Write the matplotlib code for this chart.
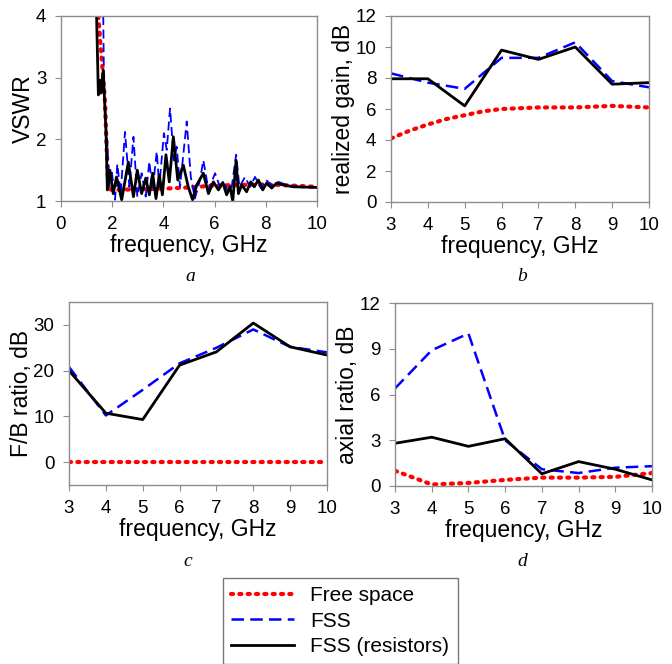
import numpy as np
import matplotlib
matplotlib.use("Agg")
import matplotlib.pyplot as plt

plt.rcParams['font.family'] = ['Liberation Sans', 'DejaVu Sans']

# (a) VSWR
vswr_free_f = [1.46, 1.55, 1.65, 1.72, 1.78, 1.85, 2.0, 3.0, 4.0, 5.0, 6.0, 7.0, 8.0, 9.0, 10.0]
vswr_free = [4.0, 3.5, 3.0, 2.6, 1.9, 1.2, 1.18, 1.19, 1.2, 1.22, 1.25, 1.26, 1.27, 1.25, 1.23]

vswr_fss_f = [1.65, 1.68, 1.76, 1.81, 1.89, 1.98, 2.11, 2.2, 2.33, 2.5, 2.67, 2.83, 2.98,
              3.15, 3.31, 3.45, 3.58, 3.74, 3.84, 4.02, 4.13, 4.26, 4.41, 4.52, 4.65,
              4.91, 5.07, 5.23, 5.43, 5.56, 5.76, 6.02, 6.21, 6.37, 6.54, 6.67, 6.84,
              6.97, 7.19, 7.38, 7.58, 7.8, 8.01, 8.23, 8.49, 8.82, 9.34, 10.0]
vswr_fss = [4.0, 2.9, 2.2, 1.94, 1.23, 1.5, 1.02, 1.6, 1.12, 2.12, 1.23, 2.04, 1.07,
            1.45, 1.07, 1.64, 1.18, 1.8, 1.23, 2.1, 1.83, 2.5, 1.66, 1.88, 1.23,
            2.29, 1.39, 1.04, 1.34, 1.66, 1.18, 1.45, 1.23, 1.29, 1.15, 1.23, 1.75,
            1.23, 1.39, 1.23, 1.39, 1.21, 1.34, 1.26, 1.31, 1.26, 1.23, 1.22]

vswr_res_f = [1.39, 1.46, 1.52, 1.56, 1.65, 1.76, 1.81, 1.91, 2.04, 2.17, 2.37, 2.63, 2.83,
              2.98, 3.15, 3.31, 3.45, 3.58, 3.71, 3.84, 3.96, 4.1, 4.23, 4.39, 4.56,
              4.78, 4.97, 5.14, 5.3, 5.56, 5.76, 5.95, 6.15, 6.32, 6.47, 6.6, 6.71,
              6.84, 6.93, 7.06, 7.25, 7.41, 7.55, 7.71, 7.88, 8.03, 8.23, 8.42, 8.68,
              9.08, 10.0]
vswr_res = [4.0, 2.72, 2.96, 2.75, 3.12, 2.1, 1.18, 1.5, 1.12, 1.39, 1.02, 1.63, 1.07,
            1.5, 1.12, 1.37, 1.1, 1.45, 1.04, 1.42, 1.1, 1.75, 1.31, 2.04, 1.34,
            1.58, 1.23, 1.02, 1.26, 1.45, 1.12, 1.31, 1.18, 1.3, 1.1, 1.23, 1.0,
            1.66, 1.12, 1.26, 1.15, 1.31, 1.23, 1.34, 1.18, 1.29, 1.21, 1.29, 1.26,
            1.23, 1.22]

# (b) realized gain
freq = [3, 4, 5, 6, 7, 8, 9, 10]
gain_free_f = [3, 3.5, 4, 4.5, 5, 5.5, 6, 7, 8, 9, 10]
gain_free = [4.1, 4.6, 5.0, 5.35, 5.6, 5.85, 6.0, 6.1, 6.1, 6.2, 6.1]
gain_fss = [8.3, 7.7, 7.3, 9.3, 9.3, 10.3, 7.8, 7.4]
gain_res = [7.95, 7.95, 6.2, 9.8, 9.2, 10.0, 7.6, 7.7]

# (c) F/B ratio
fb_free = [0, 0, 0, 0, 0, 0, 0, 0]
fb_fss = [20.8, 10.2, 15.8, 21.6, 25.0, 29.0, 25.2, 24.0]
fb_res = [20.0, 10.7, 9.3, 21.2, 24.1, 30.4, 25.2, 23.4]

# (d) axial ratio
ar_free = [1.0, 0.1, 0.2, 0.4, 0.55, 0.55, 0.6, 0.85]
ar_fss = [6.4, 8.9, 10.0, 3.0, 1.1, 0.85, 1.2, 1.3]
ar_res = [2.8, 3.2, 2.6, 3.1, 0.8, 1.6, 1.1, 0.4]

W, H = 672, 664
fig = plt.figure(figsize=(W / 100, H / 100), dpi=100)


def px_axes(left, top, right, bottom):
    return fig.add_axes([left / W, 1 - bottom / H, (right - left) / W, (bottom - top) / H])


red = dict(color='#ff0000', linestyle=(0, (0.5, 1.5)), linewidth=3.0, dash_capstyle='round')
blue = dict(color='#0000ff', linestyle=(0, (5, 2.5)), linewidth=1.8)
black = dict(color='black', linestyle='-', linewidth=2.0)


def style(ax, ylabel):
    for s in ax.spines.values():
        s.set_color('#8c8c8c')
        s.set_linewidth(1.0)
    ax.tick_params(labelsize=13.5, length=4, color='#8c8c8c', pad=6.5)
    ax.set_xlabel('frequency, GHz', fontsize=16.5, labelpad=1)
    ax.set_ylabel(ylabel, fontsize=16.5, labelpad=0.5)


# a
ax = px_axes(61, 16, 317, 201)
ax.plot(vswr_free_f, vswr_free, **red)
ax.plot(vswr_fss_f, vswr_fss, **{**blue, 'linewidth': 1.3})
ax.plot(vswr_res_f, vswr_res, **black)
ax.set_xlim(0, 10)
ax.set_ylim(1, 4)
ax.set_xticks([0, 2, 4, 6, 8, 10])
ax.set_yticks([1, 2, 3, 4])
style(ax, 'VSWR')

# b
ax = px_axes(391, 16, 649, 202)
ax.plot(gain_free_f, gain_free, **red)
ax.plot(freq, gain_fss, **blue)
ax.plot(freq, gain_res, **black)
ax.set_xlim(3, 10)
ax.set_ylim(0, 12)
ax.set_xticks(freq)
ax.set_yticks([0, 2, 4, 6, 8, 10, 12])
style(ax, 'realized gain, dB')

# c
ax = px_axes(69, 302, 327, 485)
ax.plot(freq, fb_free, **red)
ax.plot(freq, fb_fss, **blue)
ax.plot(freq, fb_res, **black)
ax.set_xlim(3, 10)
ax.set_ylim(-5, 35)
ax.set_xticks(freq)
ax.set_yticks([0, 10, 20, 30])
style(ax, 'F/B ratio, dB')

# d
ax = px_axes(395, 303, 652, 486)
ax.plot(freq, ar_free, **red)
ax.plot(freq, ar_fss, **blue)
ax.plot(freq, ar_res, **black)
ax.set_xlim(3, 10)
ax.set_ylim(0, 12)
ax.set_xticks(freq)
ax.set_yticks([0, 3, 6, 9, 12])
style(ax, 'axial ratio, dB')

# panel captions
for lbl, x, y in [('a', 190, 276), ('b', 522, 276), ('c', 188, 562), ('d', 522, 562)]:
    fig.text(x / W, 1 - y / H, lbl, fontsize=14, style='italic',
             family='Liberation Serif', ha='center', va='center')

handles = [plt.Line2D([], [], **red), plt.Line2D([], [], **blue), plt.Line2D([], [], **black)]
leg = fig.legend(handles, ['Free space', 'FSS', 'FSS (resistors)'],
                 loc='upper left', bbox_to_anchor=(223 / W, 1 - 578 / H),
                 fontsize=15, frameon=True, fancybox=False, handlelength=3.0,
                 handletextpad=0.8, labelspacing=0.3, borderpad=0.4, borderaxespad=0)
leg.get_frame().set_edgecolor('#555555')
leg.get_frame().set_linewidth(1.0)

fig.savefig('out.png', dpi=100)
